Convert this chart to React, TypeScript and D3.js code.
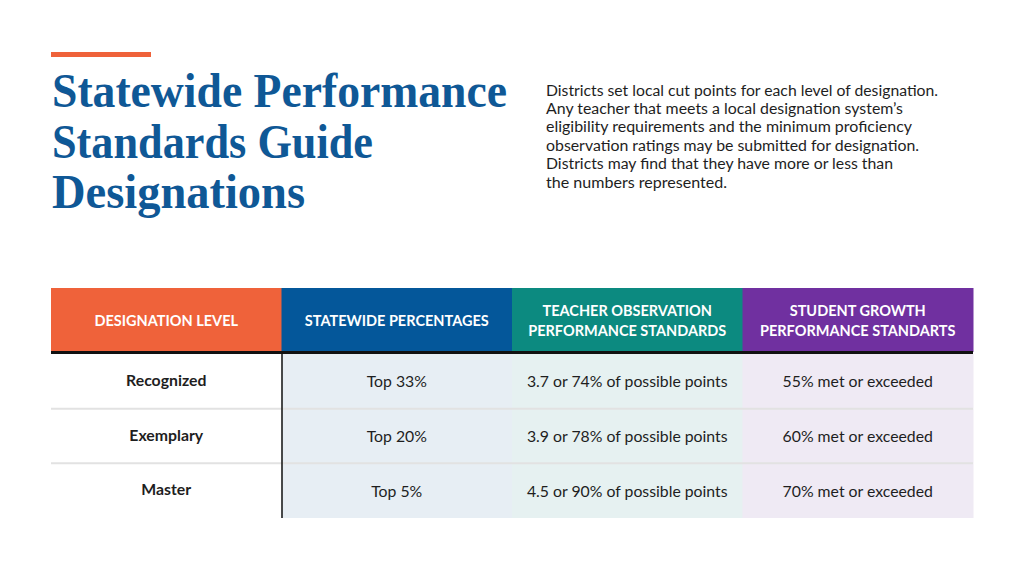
import React from "react";
import * as d3 from "d3";

const titleLines = ["Statewide Performance", "Standards Guide", "Designations"];
const titleWidths = [455, 321, 253];
const paragraphLines = [
  "Districts set local cut points for each level of designation.",
  "Any teacher that meets a local designation system\u2019s",
  "eligibility requirements and the minimum proficiency",
  "observation ratings may be submitted for designation.",
  "Districts may find that they have more or less than",
  "the numbers represented.",
];
const paragraphWidths = [392, 357, 366, 373, 347, 181];
const headers = [
  ["DESIGNATION LEVEL"],
  ["STATEWIDE PERCENTAGES"],
  ["TEACHER OBSERVATION", "PERFORMANCE STANDARDS"],
  ["STUDENT GROWTH", "PERFORMANCE STANDARTS"],
];
const levels = ["Recognized", "Exemplary", "Master"];
const statewide = ["Top 33%", "Top 20%", "Top 5%"];
const observation = [
  "3.7 or 74% of possible points",
  "3.9 or 78% of possible points",
  "4.5 or 90% of possible points",
];
const growth = ["55% met or exceeded", "60% met or exceeded", "70% met or exceeded"];

const headerColors = ["#ef623a", "#04579a", "#0c8a80", "#7030a0"];
const cellColors = ["#ffffff", "#e7eef4", "#e6f1f1", "#efeaf4"];

export default function App() {
  const W = 1024, H = 576;
  const cols = [levels, statewide, observation, growth];
  const x = d3.scaleBand<number>().domain(d3.range(4)).range([51, 973]);
  const y = d3.scaleBand<number>().domain(d3.range(3)).range([354, 518]);
  const font = "Lato, 'Open Sans', sans-serif";
  return (
    <svg width={W} height={H} style={{ position: "absolute", left: 0, top: 0, background: "#fff" }}>
      <rect x={0} y={0} width={W} height={H} fill="#fff" />
      <rect x={51} y={52} width={100} height={5} fill="#ef623a" />
      {titleLines.map((t, i) => (
        <text
          key={t}
          x={52}
          y={107 + i * 50.5}
          fontFamily="'Liberation Serif', 'DejaVu Serif', serif"
          fontWeight="bold"
          fontSize={49}
          fill="#0f5896"
          textLength={titleWidths[i]}
          lengthAdjust="spacingAndGlyphs"
        >
          {t}
        </text>
      ))}
      {paragraphLines.map((t, i) => (
        <text
          key={i}
          x={546}
          y={95.5 + i * 18.4}
          fontFamily={font}
          fontSize={15.5}
          fill="#1e1e1e"
          textLength={paragraphWidths[i]}
          lengthAdjust="spacingAndGlyphs"
        >
          {t}
        </text>
      ))}
      {/* header */}
      {headers.map((h, c) => (
        <g key={c}>
          <rect x={x(c)} y={288} width={x.bandwidth() + 0.5} height={64} fill={headerColors[c]} />
          {h.map((line, k) => (
            <text
              key={k}
              x={(x(c) as number) + x.bandwidth() / 2}
              y={h.length === 1 ? 326 : 316 + k * 20}
              textAnchor="middle"
              fontFamily={font}
              fontWeight="bold"
              fontSize={14.5}
              fill="#ffffff"
            >
              {line}
            </text>
          ))}
        </g>
      ))}
      {/* body cells */}
      {cols.map((col, c) =>
        col.map((v, r) => (
          <g key={`${c}-${r}`}>
            <rect
              x={x(c)}
              y={y(r)}
              width={x.bandwidth() + 0.5}
              height={y.bandwidth()}
              fill={cellColors[c]}
            />
            <text
              x={(x(c) as number) + x.bandwidth() / 2}
              y={(y(r) as number) + y.bandwidth() / 2 + (c === 0 ? 4.5 : 6)}
              textAnchor="middle"
              fontFamily={font}
              fontWeight={c === 0 ? "bold" : "normal"}
              fontSize={15.8}
              fill="#1e1e1e"
            >
              {v}
            </text>
          </g>
        ))
      )}
      {/* row separators */}
      {[1, 2].map((r) => (
        <line
          key={r}
          x1={51}
          x2={973}
          y1={y(r)}
          y2={y(r)}
          stroke="#e2e2e2"
          strokeWidth={2}
        />
      ))}
      {/* header bottom rule */}
      <rect x={51} y={351} width={922} height={3} fill="#111" />
      {/* vertical rule */}
      <line x1={282} x2={282} y1={352} y2={518} stroke="#111" strokeWidth={1.5} />
    </svg>
  );
}
